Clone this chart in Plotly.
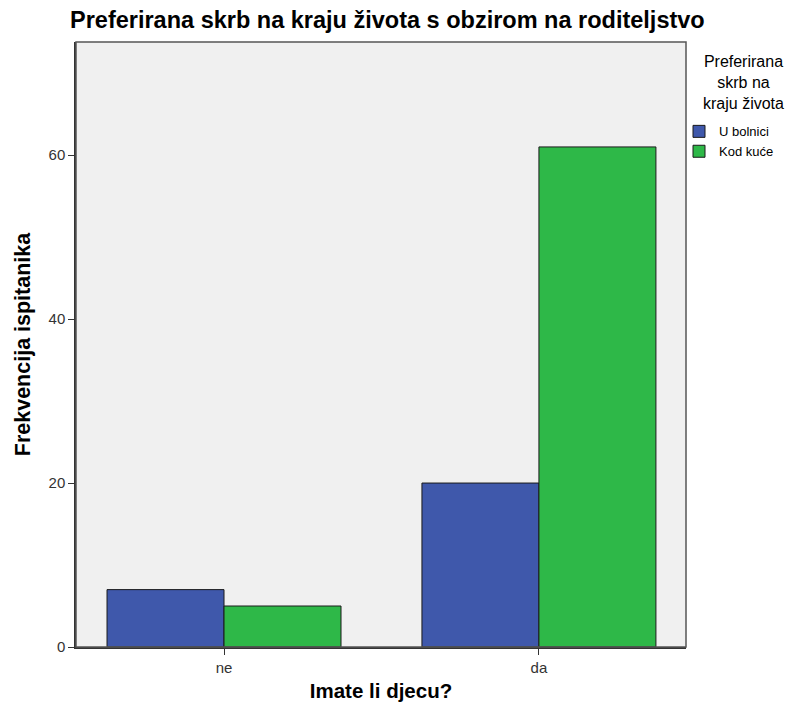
import plotly.graph_objects as go

categories = ["ne", "da"]
series_names = ["U bolnici", "Kod kuće"]
u_bolnici = [7, 20]
kod_kuce = [5, 61]
y_ticks = [0, 20, 40, 60]

colors = ["#3F58AB", "#2EB848"]
font_family = "Liberation Sans, Arial, sans-serif"

W, H = 794, 715
L, R, T, B = 76, 108, 42, 68
pw, ph = W - L - R, H - T - B

fig = go.Figure()
for name, vals, col in zip(series_names, [u_bolnici, kod_kuce], colors):
    fig.add_trace(go.Bar(
        x=categories, y=vals, name=name,
        marker=dict(color=col, line=dict(color="#1a1a1a", width=1)),
    ))

fig.update_layout(
    width=W, height=H,
    margin=dict(l=L, r=R, t=T, b=B, autoexpand=False),
    paper_bgcolor="white",
    plot_bgcolor="#F0F0F0",
    barmode="group",
    bargap=0.257,
    bargroupgap=0,
    font=dict(family=font_family, color="#222"),
    title=dict(
        text="<b>Preferirana skrb na kraju života s obzirom na roditeljstvo</b>",
        x=70/W, xref="container", xanchor="left",
        y=1-20/H, yref="container", yanchor="middle",
        font=dict(size=23.5, color="black", family=font_family),
    ),
    xaxis=dict(
        range=[-0.47, 1.467],
        showline=True, linecolor="#333", linewidth=1.5, mirror=False,
        ticks="outside", ticklen=6, tickcolor="#333",
        tickfont=dict(size=15, color="#333"),
        showgrid=False,
        title=dict(text="<b>Imate li djecu?</b>", font=dict(size=20.5, color="black"), standoff=9),
    ),
    yaxis=dict(
        range=[0, 73.8],
        tickvals=y_ticks,
        showline=True, linecolor="#333", linewidth=1.5, mirror=False,
        ticks="outside", ticklen=6, tickcolor="#333",
        tickfont=dict(size=15, color="#333"),
        showgrid=False, zeroline=False,
        title=dict(text="<b>Frekvencija ispitanika</b>", font=dict(size=21.5, color="black"), standoff=12),
    ),
    legend=dict(
        x=(679 - L) / pw, xanchor="left", y=0.877, yanchor="top",
        font=dict(size=13, color="black"),
        itemwidth=30, tracegroupgap=0,
        bgcolor="rgba(0,0,0,0)",
    ),
    showlegend=True,
)

# plot frame
fig.add_shape(type="rect", xref="paper", yref="paper", x0=0, y0=0, x1=1, y1=1,
              line=dict(color="#555", width=1.5), fillcolor="rgba(0,0,0,0)", layer="above")

fig.add_annotation(
    text="Preferirana<br>skrb na<br>kraju života",
    xref="paper", yref="paper", x=(743 - L) / pw, y=(647 - 82) / ph,
    xanchor="center", yanchor="middle", showarrow=False, align="center",
    font=dict(size=16, color="black"),
)

fig.write_html("out.html", config={"displayModeBar": False},
               post_script="document.body.style.margin='0';")
